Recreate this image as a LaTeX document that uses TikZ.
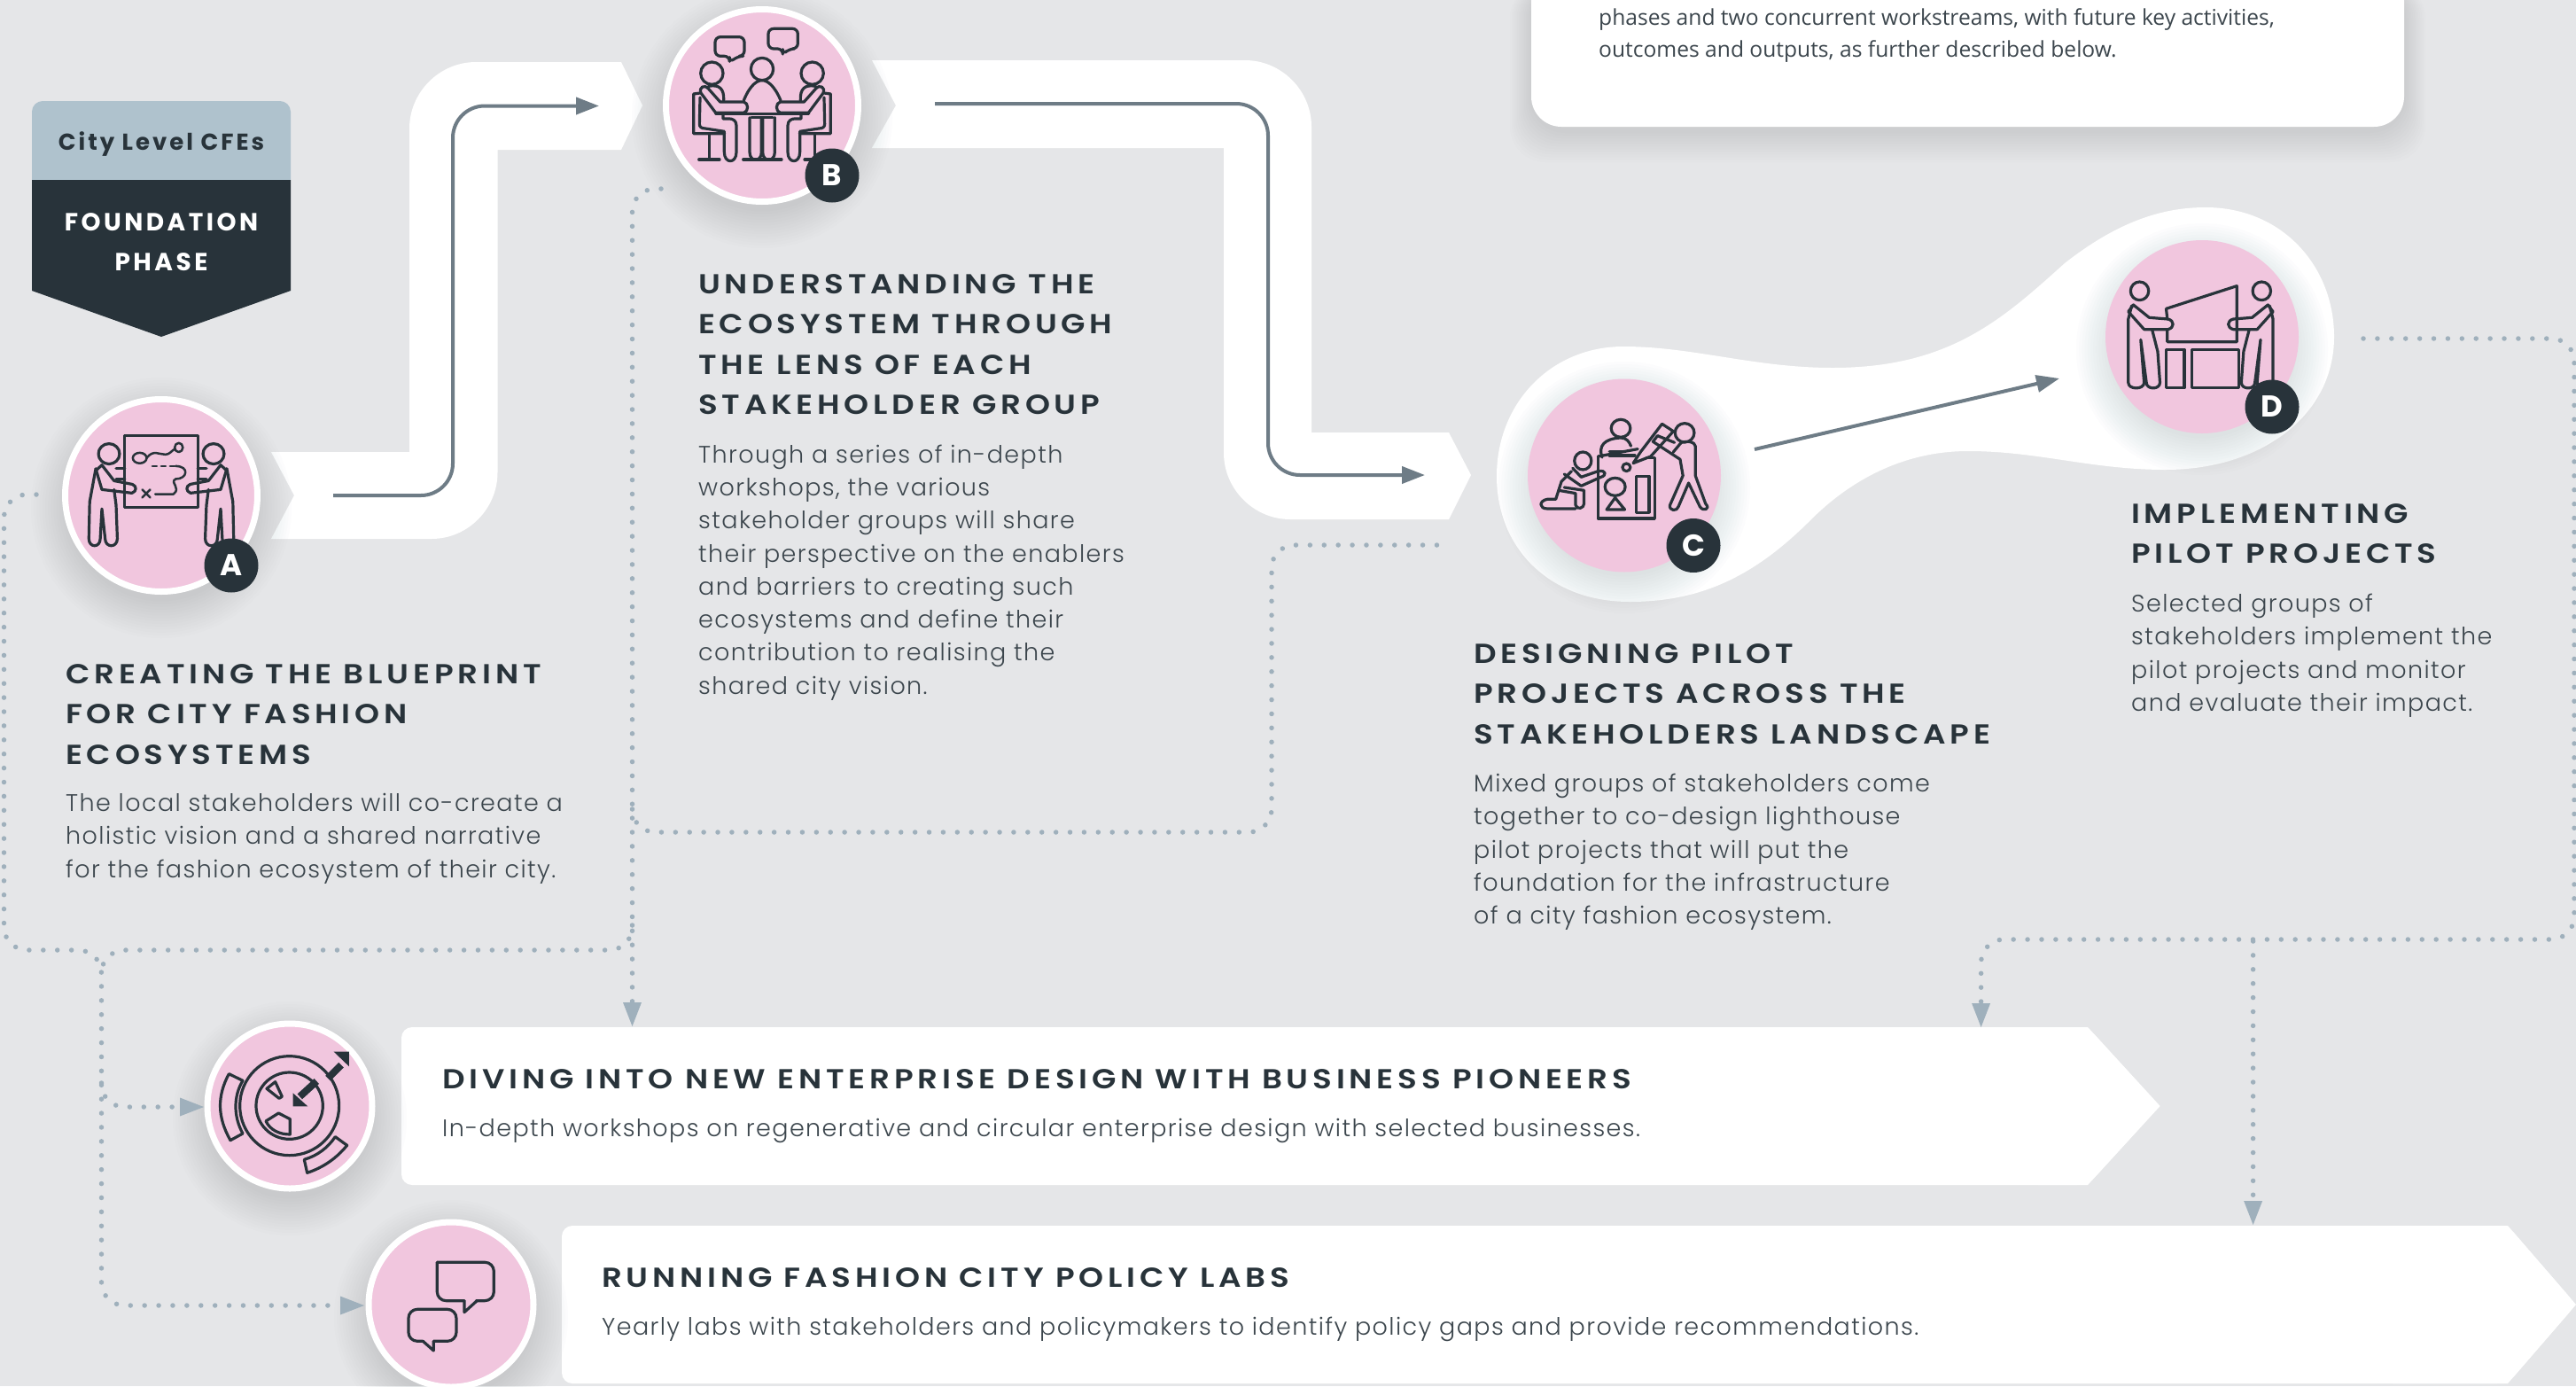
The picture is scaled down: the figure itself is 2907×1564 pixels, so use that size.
\documentclass[tikz,border=0pt]{standalone}
\usepackage{fontspec}
\usetikzlibrary{arrows.meta}
\setmainfont{Poppins}
\newfontfamily\hdfont[LetterSpace=15.5,FakeStretch=1.15]{Poppins SemiBold}
\newfontfamily\bdfont[LetterSpace=5.2]{Poppins Light}
\newfontfamily\cardfont{Open Sans}
\definecolor{bgc}{HTML}{E5E6E8}
\definecolor{pinkc}{HTML}{F1C6DE}
\definecolor{darkc}{HTML}{28333A}
\definecolor{lightb}{HTML}{AFC2CD}
\definecolor{linec}{HTML}{6E7C86}
\definecolor{dotc}{HTML}{9FB0BC}
\definecolor{bodyc}{HTML}{3C464D}
\definecolor{shadc}{HTML}{6F7D86}
\tikzset{
  big/.style={circle,fill=pinkc,draw=white,line width=7pt,inner sep=0pt,minimum size=217pt},
  mid/.style={circle,fill=pinkc,draw=white,line width=7pt,inner sep=0pt,minimum size=186pt},
  plain/.style={circle,fill=pinkc,inner sep=0pt,minimum size=218pt},
  tag/.style={circle,fill=darkc,text=white,inner sep=0pt,minimum size=61pt,font=\fontsize{34}{34}\selectfont\bfseries},
  band/.style={fill=white,draw=none},
  flow/.style={draw=linec,line width=4pt,-{Triangle[length=26pt,width=19pt,fill=linec]}},
  dots/.style={draw=dotc,line width=5.5pt,line cap=round,dash pattern=on 0pt off 15.9pt,rounded corners=26pt},
  dotar/.style={dots,-{Triangle[length=27pt,width=21pt,fill=dotc,line width=0pt]}},
  ico/.style={draw=darkc,line width=3.2pt,line join=round,line cap=round},
  head/.style={anchor=north west,inner sep=0pt,align=left,text=darkc,font=\hdfont\fontsize{31}{45.6}\selectfont},
  body/.style={anchor=north west,inner sep=0pt,align=left,text=bodyc,font=\bdfont\fontsize{27}{37.3}\selectfont},
  cardt/.style={anchor=north west,inner sep=0pt,align=left,text=bodyc,font=\cardfont\fontsize{24.6}{36}\selectfont},
}
\newcommand\softshadow[3]{%
  \foreach \i in {0,...,13}{\fill[shadc,opacity=0.015] (#1,#2+14) circle[radius=#3+42-3.2*\i];}}
\begin{document}
\begin{tikzpicture}[x=1pt,y=-1pt]
\useasboundingbox (0,0) rectangle (2907,1564);
\fill[bgc] (0,0) rectangle (2907,1564);

% top card
\foreach \i in {0,...,11}{\fill[shadc,opacity=0.016,rounded corners=40pt] (1728-24+2*\i,-20) rectangle (2713+24-2*\i,143+40-3*\i);}
\fill[white,rounded corners=34pt] (1728,-60) rectangle (2713,143);
\node[cardt] (cardtext) at (1804,9) {phases and two concurrent workstreams, with future key activities,\\outcomes and outputs, as further described below.};

% bands
\fill[band] (306,510) -- (462,510) -- (462,145) .. controls (462,104) and (496,70) .. (537,70) -- (701,70) -- (725,119) -- (701,169) -- (561.5,169) -- (561.5,533) .. controls (561.5,574) and (528,608) .. (487,608) -- (306,608) -- (332,559) -- cycle;
\fill[band] (984,68) -- (1405,68) .. controls (1446,68) and (1480,102) .. (1480,143) -- (1480,488) -- (1635,488) -- (1660,536) -- (1635,586) -- (1456,586) .. controls (1415,586) and (1381,552) .. (1381,511) -- (1381,167) -- (984,167) -- (1011,119) -- cycle;
\fill[band] (1689,537) .. controls (1689,455) and (1750,391) .. (1832,391) .. controls (1910,391) and (1980,415) .. (2068,415) .. controls (2200,415) and (2260,360) .. (2330,297) .. controls (2390,250) and (2440,234) .. (2489,234) .. controls (2575,234) and (2634,300) .. (2634,380) .. controls (2634,470) and (2550,530) .. (2444,530) .. controls (2360,530) and (2300,509) .. (2221,509) .. controls (2150,509) and (2090,540) .. (2043,587) .. controls (1980,650) and (1920,679) .. (1839,679) .. controls (1750,679) and (1689,620) .. (1689,537) -- cycle;

% banners
\fill[white,rounded corners=12pt] (453,1159) -- (2356,1159) -- (2437,1248) -- (2356,1337) -- (453,1337) -- cycle;
\fill[white] (2300,1159) -- (2356,1159) -- (2437.6,1248) -- (2356,1337) -- (2300,1337) -- cycle;
\fill[white,rounded corners=12pt] (634,1383) -- (2830,1383) -- (2907,1472) -- (2830,1561) -- (634,1561) -- cycle;
\fill[white] (2700,1383) -- (2830,1383) -- (2907,1472) -- (2830,1561) -- (2700,1561) -- cycle;

% shadows
\softshadow{182}{559}{105}
\softshadow{860}{119}{105}
\softshadow{1833}{536}{100}
\softshadow{2485}{380}{100}
\softshadow{327}{1248}{90}
\softshadow{509}{1472}{90}

% badge phase
\fill[lightb] (36,203) -- (36,126) .. controls (36,119) and (42,114) .. (48,114) -- (316,114) .. controls (322,114) and (328,119) .. (328,126) -- (328,203) -- cycle;
\fill[darkc] (36,203) -- (328,203) -- (328,328) -- (182,380) -- (36,328) -- cycle;
\node[text=darkc,inner sep=0pt,font={\fontsize{26}{26}\selectfont\addfontfeature{LetterSpace=11.5}\bfseries}] (cityt) at (182,162.5) {City Level CFEs};
\node[text=white,inner sep=0pt,align=center,font={\fontsize{28}{45}\selectfont\addfontfeature{LetterSpace=12.5}\bfseries}] (phaset) at (182,273) {FOUNDATION\\PHASE};

% circles
\node[big] (ca) at (182,559) {};
\node[big] (cb) at (860,119) {};
\node[plain] (cc) at (1833,536.5) {};
\node[plain] (cd) at (2485,380) {};
\node[mid] (ce) at (327,1248) {};
\node[mid] (cf) at (509,1472) {};
\node[tag] (ta) at (261,638) {A};
\node[tag] (tb) at (939,198) {B};
\node[tag] (tc) at (1911,615.5) {C};
\node[tag] (td) at (2564,459) {D};

% connector ends
\coordinate (a1) at (376,559);
\coordinate (a2) at (676,119.5);
\coordinate (b1) at (1055,117);
\coordinate (b2) at (1608,536);
\coordinate (c1) at (1980,507);
\coordinate (c2) at (2324,427);
\draw[flow,rounded corners=36pt] (a1) -- (511,559) -- (511,119.5) -- (a2);
\draw[flow,rounded corners=36pt] (b1) -- (1431,117) -- (1431,536) -- (b2);
\draw[flow] (c1) -- (c2);

% dotted
\coordinate (d1) at (41,558);
\coordinate (d2) at (746,213);
\coordinate (d3) at (1634,615);
\coordinate (d4) at (2667,382);
\coordinate (e1) at (411,1473);
\coordinate (e2) at (230,1249);
\coordinate (e3) at (713.5,1158);
\coordinate (e4) at (2235.6,1159);
\coordinate (e5) at (2542.6,1382);
\draw[dotar] (d1) -- (4.5,558) -- (4.5,1072) -- (114.5,1072) -- (114.5,1473) -- (e1);
\draw[dotar] (d2) -- (713.5,213) -- (e3);
\draw[dots] (713.5,1044) -- (713.5,1072) -- (114.5,1072) -- (114.5,1100);
\draw[dots] (713.5,913) -- (713.5,939) -- (1435,939) -- (1435,615) -- (d3);
\draw[dotar] (114.5,1222) -- (114.5,1249) -- (e2);
\draw[dotar] (d4) -- (2905,382) -- (2905,1060) -- (2235.6,1060) -- (e4);
\draw[dotar] (2542.6,1062) -- (e5);

% headings and bodies
\node[head] (h1) at (74,749) {CREATING THE BLUEPRINT\\FOR CITY FASHION\\ECOSYSTEMS};
\node[body] (b1t) at (74,895) {The local stakeholders will co-create a\\holistic vision and a shared narrative\\for the fashion ecosystem of their city.};
\node[head] (h2) at (788,309) {UNDERSTANDING THE\\ECOSYSTEM THROUGH\\THE LENS OF EACH\\STAKEHOLDER GROUP};
\node[body] (b2t) at (788,501.5) {Through a series of in-depth\\workshops, the various\\stakeholder groups will share\\their perspective on the enablers\\and barriers to creating such\\ecosystems and define their\\contribution to realising the\\shared city vision.};
\node[head] (h3) at (1663,726) {DESIGNING PILOT\\PROJECTS ACROSS THE\\STAKEHOLDERS LANDSCAPE};
\node[body] (b3t) at (1663,873) {Mixed groups of stakeholders come\\together to co-design lighthouse\\pilot projects that will put the\\foundation for the infrastructure\\of a city fashion ecosystem.};
\node[head] (h4) at (2405,568) {IMPLEMENTING\\PILOT PROJECTS};
\node[body] (b4t) at (2405,670) {Selected groups of\\stakeholders implement the\\pilot projects and monitor\\and evaluate their impact.};
\node[head] (h5) at (499,1206) {DIVING INTO NEW ENTERPRISE DESIGN WITH BUSINESS PIONEERS};
\node[body] (b5t) at (499,1262) {In-depth workshops on regenerative and circular enterprise design with selected businesses.};
\node[head] (h6) at (679,1430) {RUNNING FASHION CITY POLICY LABS};
\node[body] (b6t) at (679,1486) {Yearly labs with stakeholders and policymakers to identify policy gaps and provide recommendations.};

% icon A
\begin{scope}[shift={(182,80)},x=0.4591pt,y=-0.3953pt]
\foreach \sx in {1,-1}{
\begin{scope}[xscale=\sx]
\draw[ico] (-128.5,1093) ellipse[x radius=26,y radius=29];
\draw[ico] (-161,1135) -- (-176,1230) -- (-178,1335) .. controls (-178,1362) and (-150,1362) .. (-150,1335) -- (-146,1250) -- (-138,1335) .. controls (-138,1362) and (-108,1362) .. (-108,1335) -- (-111,1240) -- (-116,1195);
\draw[ico] (-146,1125) -- (-116,1170) -- (-71,1180) .. controls (-60,1185) and (-60,1200) .. (-72,1205) -- (-146,1195) -- (-160,1140) -- cycle;
\draw[ico] (-111,1135) -- (-90,1135) (-111,1165) -- (-90,1165);
\end{scope}}
\draw[ico] (-90,1040) rectangle (90,1245);
\draw[ico,line width=2.5pt] (-53,1105) ellipse[x radius=17,y radius=15];
\draw[ico,line width=2.5pt] (-36,1105) .. controls (-20,1080) and (-5,1095) .. (10,1095) .. controls (20,1095) and (25,1085) .. (32,1080);
\draw[ico,line width=2.5pt] (43,1075) ellipse[x radius=10,y radius=13];
\draw[ico,line width=2.5pt,dash pattern=on 5pt off 5pt] (-22,1128) -- (35,1128);
\draw[ico,line width=2.5pt] (35,1128) .. controls (70,1128) and (65,1165) .. (35,1165) .. controls (20,1175) and (50,1190) .. (30,1208) -- (-15,1208);
\draw[ico,line width=2.5pt] (-47,1195) -- (-27,1218) (-27,1195) -- (-47,1218);
\end{scope}

% icon B
\begin{scope}[shift={(860,0)},x=0.3333pt,y=-0.3333pt]
\draw[ico,rounded corners=6pt] (-159,125) -- (-60,125) -- (-60,190) -- (-82,190) -- (-110,212) -- (-110,190) -- (-159,190) -- cycle;
\draw[ico,rounded corners=6pt] (21,97) -- (121,97) -- (121,165) -- (92,165) -- (70,185) -- (70,165) -- (21,165) -- cycle;
\draw[ico] (0,234) circle[radius=38];
\draw[ico] (-62,340) .. controls (-40,285) and (-15,272) .. (0,272) .. controls (15,272) and (40,285) .. (63,340);
\draw[ico] (-157,385) -- (158,385);
\draw[ico] (-42,398) -- (-42,515) .. controls (-42,550) and (-2,550) .. (-2,515) -- (-2,398) (2,398) -- (2,515) .. controls (2,550) and (43,550) .. (43,515) -- (43,398);
\draw[ico] (-36,398) -- (36,398);
\draw[ico] (-64,540) -- (66,540);
\foreach \sx in {1,-1}{
\begin{scope}[xscale=\sx]
\draw[ico] (-170,248) circle[radius=38];
\draw[ico] (-210,315) -- (-232,318) -- (-232,452) -- (-127,452);
\draw[ico] (-179,452) -- (-179,540) (-214,540) -- (-144,540);
\draw[ico] (-210,330) -- (-212,420) .. controls (-212,430) and (-205,435) .. (-192,435) -- (-128,445) -- (-128,515) .. controls (-128,555) and (-87,555) .. (-87,515) -- (-87,425) .. controls (-87,408) and (-100,402) .. (-110,402) -- (-132,402) -- (-132,388);
\draw[ico] (-207,315) -- (-157,382) -- (-62,382) .. controls (-45,378) and (-45,348) .. (-62,345) -- (-142,345) -- (-182,300) .. controls (-195,285) and (-215,295) .. (-207,315) -- cycle;
\draw[ico] (-182,292) .. controls (-145,285) and (-128,300) .. (-130,340);
\end{scope}}
\end{scope}

% icon C
\begin{scope}[shift={(1660,220)},x=0.6378pt,y=-0.3333pt]
\draw[ico] (225,885) -- (225,1095) -- (325,1095) -- (325,890) -- (310,890);
\draw[ico] (225,885) -- (295,860);
\draw[ico] (275,922) ellipse[x radius=7,y radius=13];
\draw[ico] (255,988) ellipse[x radius=18,y radius=30];
\draw[ico] (240,1065) -- (255,1025) -- (272,1065) -- cycle;
\draw[ico] (292,952) rectangle (315,1075);
\draw[ico] (287,908) -- (300,870) -- (338,775) -- (358,800) -- (318,885) -- cycle;
\draw[ico] (265,790) ellipse[x radius=17,y radius=30];
\draw[ico] (232,888) .. controls (225,850) and (235,825) .. (265,822) .. controls (275,822) and (280,835) .. (283,850);
\draw[ico] (245,868) -- (272,868) (245,882) -- (290,882);
\draw[ico] (378,805) ellipse[x radius=17,y radius=32];
\draw[ico] (360,838) -- (330,815) -- (322,835) -- (370,895) -- (375,950) -- (352,1050) .. controls (350,1070) and (365,1072) .. (367,1055) -- (385,975) -- (405,1055) .. controls (410,1072) and (425,1065) .. (415,1045) -- (397,950) -- (397,850) .. controls (395,835) and (385,832) .. (372,838) -- (358,870);
\draw[ico] (198,900) ellipse[x radius=15,y radius=30];
\draw[ico] (178,935) -- (160,970) -- (155,1000) -- (185,1010) -- (185,1050) .. controls (188,1068) and (200,1060) .. (200,1045) -- (200,1000) -- (165,990);
\draw[ico] (180,925) -- (195,955) -- (225,935) .. controls (240,930) and (240,950) .. (230,955) -- (195,985) -- (165,945);
\draw[ico] (155,1000) -- (150,1030) -- (135,1030) .. controls (120,1035) and (120,1062) .. (135,1062) -- (185,1062);
\end{scope}

% icon D
\begin{scope}[shift={(1660,220)},x=0.6378pt,y=-0.3333pt]
\draw[ico] (1232,455) -- (1232,497) -- (1355,497) -- (1355,308) -- (1230,385) -- (1232,420);
\draw[ico] (1230,523) rectangle (1262,653);
\draw[ico] (1275,523) rectangle (1358,653);
\end{scope}
\foreach \ux in {0.6378,-0.6378}{
\begin{scope}[shift={(2483.4,220)},x=\ux pt,y=-0.3333pt]
\draw[ico] (-108,325) ellipse[x radius=16,y radius=31];
\draw[ico] (-122,375) -- (-128,420) -- (-128,635) .. controls (-128,660) and (-100,660) .. (-100,635) -- (-106,490) -- (-96,635) .. controls (-96,660) and (-72,660) .. (-72,635) -- (-76,530) -- (-86,455);
\draw[ico] (-119,372) -- (-91,415) -- (-58,420) .. controls (-46,425) and (-46,450) .. (-58,455) -- (-100,455) -- (-128,395) -- cycle;
\end{scope}}

% icon circular
\begin{scope}[shift={(200,1130)},x=0.3333pt,y=-0.3333pt]
\draw[ico] (380,353) circle[radius=168];
\draw[ico] (380,353) circle[radius=113];
\draw[ico] (175,245) -- (222,268) .. controls (190,320) and (190,390) .. (222,447) -- (180,470) .. controls (135,390) and (135,320) .. (175,245) -- cycle;
\draw[ico] (535,458) -- (575,487) .. controls (540,530) and (495,562) .. (440,580) -- (430,535) .. controls (475,522) and (510,495) .. (535,458) -- cycle;
\draw[ico] (303,295) -- (332,272) -- (355,322) -- (345,328) -- cycle;
\draw[ico] (300,405) -- (343,378) -- (382,398) -- (382,450) .. controls (345,450) and (315,435) .. (300,405) -- cycle;
\draw[darkc,line width=8pt] (415,322) -- (472,270);
\fill[darkc] (392,355) -- (392,310) -- (442,355) -- cycle;
\draw[darkc,line width=8pt] (510,260) -- (555,215);
\fill[darkc] (582,170) -- (582,220) -- (530,170) -- cycle;
\end{scope}

% icon bubbles
\begin{scope}[shift={(200,1130)},x=0.3333pt,y=-0.3333pt]
\draw[ico,rounded corners=10pt] (880,883) -- (1072,883) -- (1072,1013) -- (1012,1013);
\draw[ico] (1015,1013) -- (972,1052) -- (972,1013);
\draw[ico,rounded corners=10pt] (972,1013) -- (880,1013) -- (880,883);
\draw[ico,rounded corners=10pt] (868,1150) -- (945,1150) -- (945,1042) -- (783,1042) -- (783,1150) -- (832,1150);
\draw[ico] (832,1150) -- (868,1182) -- (868,1150);
\end{scope}
\end{tikzpicture}
\end{document}
